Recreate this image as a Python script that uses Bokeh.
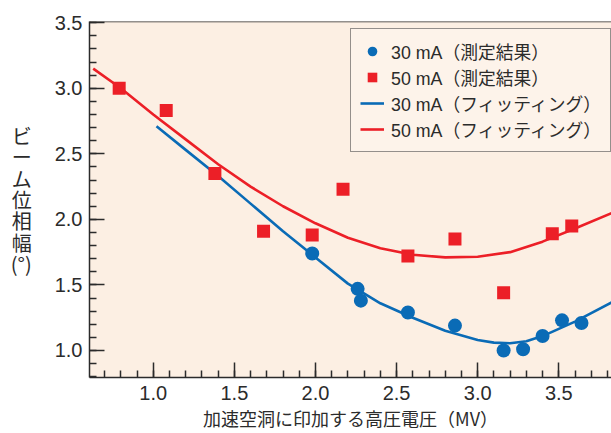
from bokeh.plotting import figure
from bokeh.models import Range1d, Legend, LegendItem, Span, FixedTicker, NumeralTickFormatter
from bokeh.embed import file_html
from bokeh.resources import INLINE

# ---- data ----
x30 = [1.98, 2.26, 2.28, 2.57, 2.86, 3.16, 3.28, 3.40, 3.52, 3.64]
y30 = [1.74, 1.47, 1.38, 1.29, 1.19, 1.00, 1.01, 1.11, 1.23, 1.21]
x50 = [0.79, 1.08, 1.38, 1.68, 1.98, 2.17, 2.57, 2.86, 3.16, 3.46, 3.58]
y50 = [3.00, 2.83, 2.35, 1.91, 1.88, 2.23, 1.72, 1.85, 1.44, 1.89, 1.95]

fit30_x = [1.02, 1.2, 1.4, 1.6, 1.8, 2.0, 2.2, 2.4, 2.6, 2.8, 3.0, 3.1, 3.2, 3.3, 3.4, 3.6, 3.83]
fit30_y = [2.71, 2.53, 2.33, 2.12, 1.91, 1.71, 1.51, 1.36, 1.25, 1.15, 1.08, 1.06, 1.055, 1.07, 1.11, 1.22, 1.37]
fit50_x = [0.63, 0.8, 1.0, 1.2, 1.4, 1.6, 1.8, 2.0, 2.2, 2.4, 2.6, 2.8, 3.0, 3.2, 3.4, 3.6, 3.83]
fit50_y = [3.15, 3.00, 2.80, 2.61, 2.42, 2.25, 2.10, 1.97, 1.86, 1.78, 1.73, 1.71, 1.715, 1.75, 1.83, 1.93, 2.05]

x_ticks = [1.0, 1.5, 2.0, 2.5, 3.0, 3.5]
y_ticks = [1.0, 1.5, 2.0, 2.5, 3.0, 3.5]
legend_labels = ["30 mA（測定結果）", "50 mA（測定結果）", "30 mA（フィッティング）", "50 mA（フィッティング）"]
x_title = "加速空洞に印加する高圧電圧（MV）"
y_title_chars = ["ビ", "ー", "ム", "位", "相", "幅", "(°)"]

BLUE = "#0a6bb6"
RED = "#ec1f27"
INK = "#2b2b2b"
BG = "#fcefe3"
JP = "Noto Sans CJK JP"
LAT = "Liberation Sans"
MIX = "Liberation Sans, Noto Sans CJK JP"

p = figure(width=611, height=433, output_backend="svg", toolbar_location=None,
           x_range=Range1d(0.607, 3.825), y_range=Range1d(0.794, 3.509),
           min_border_left=89, min_border_right=0, min_border_top=21, min_border_bottom=56)
p.background_fill_color = BG
p.border_fill_color = "white"
p.outline_line_color = None
p.grid.visible = False

for ax, ticks in ((p.xaxis[0], x_ticks), (p.yaxis[0], y_ticks)):
    ax.ticker = FixedTicker(ticks=ticks, minor_ticks=[round(0.7 + 0.1 * i, 1) for i in range(32)])
    ax.formatter = NumeralTickFormatter(format="0.0")
    ax.axis_line_color = INK
    ax.axis_line_width = 1.5
    ax.major_tick_line_color = INK
    ax.minor_tick_line_color = INK
    ax.major_tick_line_width = 1.5
    ax.minor_tick_line_width = 1.5
    ax.major_tick_in = 15
    ax.major_tick_out = 0
    ax.minor_tick_in = 7
    ax.minor_tick_out = 0
    ax.major_label_text_font = LAT
    ax.major_label_text_font_size = "20px"
    ax.major_label_text_color = INK
    ax.axis_label_text_font = JP
    ax.axis_label_text_font_style = "normal"
    ax.axis_label_text_color = INK
p.xaxis.major_label_standoff = 8
p.yaxis.major_label_standoff = 7
p.yaxis.ticker.minor_ticks = [round(0.8 + 0.1 * i, 1) for i in range(28)]

p.xaxis.axis_label = x_title
p.xaxis.axis_label_text_font_size = "18px"
p.xaxis.axis_label_text_line_height = 0.75
p.xaxis.axis_label_standoff = 2

p.yaxis.axis_label = "\n".join(y_title_chars)
p.yaxis.axis_label_orientation = "horizontal"
p.yaxis.axis_label_text_font_size = "20px"
p.yaxis.axis_label_text_line_height = 0.74
p.yaxis.axis_label_text_align = "center"
p.yaxis.axis_label_standoff = 20

p.add_layout(Span(location=3.509, dimension="width", line_color=INK, line_width=1.5))

r_fit30 = p.line(fit30_x, fit30_y, line_color=BLUE, line_width=2.6)
r_fit50 = p.line(fit50_x, fit50_y, line_color=RED, line_width=2.6)
r30 = p.scatter(x30, y30, marker="circle", size=14, fill_color=BLUE, line_color=None)
r50 = p.scatter(x50, y50, marker="square", size=13, fill_color=RED, line_color=None)

legend = Legend(items=[LegendItem(label=legend_labels[0], renderers=[r30]),
                       LegendItem(label=legend_labels[1], renderers=[r50]),
                       LegendItem(label=legend_labels[2], renderers=[r_fit30]),
                       LegendItem(label=legend_labels[3], renderers=[r_fit50])],
                location=(261, 225), margin=0, padding=9, spacing=-4,
                glyph_width=24, glyph_height=24, label_standoff=7, label_height=24,
                label_text_font=MIX, label_text_font_size="17.8px", label_text_color=INK,
                border_line_color=INK, border_line_width=1,
                background_fill_color="#fdf3ea", background_fill_alpha=1)
p.add_layout(legend)

open("out.html", "w").write(file_html(p, INLINE))
